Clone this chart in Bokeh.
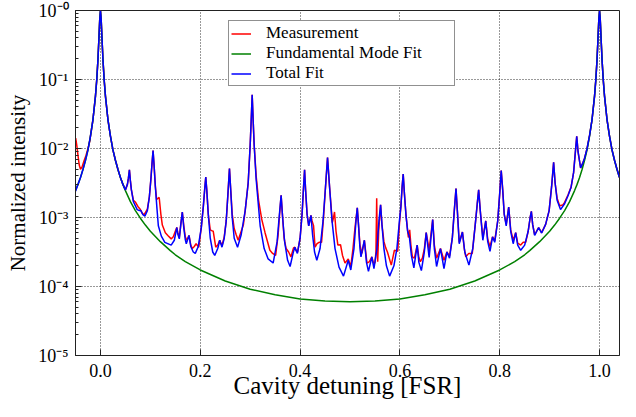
from bokeh.plotting import figure
from bokeh.models import (FixedTicker, PrintfTickFormatter, CustomJSTickFormatter,
                          Legend, LegendItem, Range1d)
from bokeh.embed import file_html
from bokeh.resources import INLINE

# ---------------- data (x in FSR, log10 of normalized intensity) ----------------
x_start, x_end = -0.05, 1.04
y_low, y_high = 1e-5, 1.0
x_ticks = [0.0, 0.2, 0.4, 0.6, 0.8, 1.0]
y_ticks = [1e-5, 1e-4, 1e-3, 1e-2, 1e-1, 1.0]
x_title = "Cavity detuning [FSR]"
y_title = "Normalized intensity"

measurement_pts = [
    (-0.0496, -1.85), (-0.0475, -1.95), (-0.045, -2.10), (-0.0425, -2.24), (-0.040, -2.30),
    (-0.037, -2.27), (-0.033, -2.18), (-0.029, -2.10), (-0.025, -2.00), (-0.021, -1.88),
    (-0.02, -1.82), (-0.015, -1.58), (-0.01, -1.24), (-0.0075, -1.01), (-0.005, -0.71),
    (-0.003, -0.39), (-0.0015, -0.14), (0.0, 0.0), (0.0015, -0.14), (0.003, -0.39),
    (0.005, -0.71), (0.0075, -1.01), (0.01, -1.24), (0.015, -1.58), (0.02, -1.82),
    (0.025, -2.02), (0.03, -2.17), (0.035, -2.30), (0.04, -2.42), (0.045, -2.52),
    (0.050, -2.60), (0.054, -2.52), (0.056, -2.43), (0.058, -2.31), (0.060, -2.47),
    (0.062, -2.60), (0.066, -2.75), (0.0704, -2.78), (0.075, -2.84), (0.080, -2.885),
    (0.084, -2.94), (0.0875, -2.96), (0.094, -2.88), (0.098, -2.70), (0.101, -2.45),
    (0.1035, -2.20), (0.1054, -2.03), (0.1075, -2.25), (0.110, -2.55), (0.1125, -2.74),
    (0.1155, -2.72), (0.1177, -2.71), (0.121, -2.95), (0.124, -3.11), (0.130, -3.22),
    (0.135, -3.26), (0.1417, -3.31), (0.146, -3.28), (0.150, -3.20), (0.153, -3.145),
    (0.155, -3.22), (0.158, -3.29), (0.161, -3.10), (0.164, -2.92), (0.167, -3.12),
    (0.170, -3.28), (0.173, -3.33), (0.1774, -3.26), (0.181, -3.40), (0.184, -3.45),
    (0.188, -3.42), (0.1916, -3.38), (0.197, -3.43), (0.202, -3.15), (0.206, -2.85),
    (0.209, -2.58), (0.211, -2.415), (0.213, -2.60), (0.216, -2.95), (0.220, -3.18),
    (0.2228, -3.19), (0.226, -3.20), (0.231, -3.43), (0.235, -3.40), (0.239, -3.33),
    (0.2435, -3.41), (0.248, -3.28), (0.252, -3.05), (0.2555, -2.65), (0.2585, -2.29),
    (0.261, -2.60), (0.264, -2.95), (0.268, -3.16), (0.272, -3.25), (0.276, -3.33),
    (0.281, -3.22), (0.2863, -3.11), (0.290, -2.90), (0.296, -2.50), (0.300, -1.95),
    (0.302, -1.60), (0.304, -1.22), (0.306, -1.60), (0.308, -1.95), (0.312, -2.40),
    (0.3168, -2.75), (0.3233, -3.03), (0.3298, -3.22), (0.3395, -3.475), (0.345, -3.52),
    (0.351, -3.55), (0.356, -3.25), (0.359, -2.95), (0.362, -2.68), (0.365, -3.00),
    (0.368, -3.30), (0.372, -3.45), (0.377, -3.50), (0.3817, -3.57), (0.3868, -3.44),
    (0.3895, -3.43), (0.392, -3.48), (0.395, -3.50), (0.400, -3.30), (0.404, -2.95),
    (0.407, -2.55), (0.409, -2.31), (0.411, -2.60), (0.414, -2.95), (0.4173, -3.12),
    (0.4218, -2.97), (0.424, -3.05), (0.427, -3.12), (0.430, -3.43), (0.434, -3.38),
    (0.438, -3.36), (0.443, -3.36), (0.447, -3.00), (0.451, -2.55), (0.455, -2.13),
    (0.459, -2.55), (0.4646, -3.075), (0.467, -3.00), (0.469, -2.92), (0.472, -3.20),
    (0.4757, -3.40), (0.481, -3.395), (0.485, -3.55), (0.490, -3.66), (0.4965, -3.60),
    (0.5016, -3.71), (0.506, -3.45), (0.510, -3.15), (0.5146, -2.86), (0.517, -3.10),
    (0.520, -3.40), (0.524, -3.52), (0.5288, -3.33), (0.534, -3.66), (0.539, -3.64),
    (0.5438, -3.57), (0.547, -3.66), (0.550, -3.66), (0.552, -3.50), (0.5535, -2.72),
    (0.5545, -3.30), (0.5555, -3.64), (0.5575, -3.20), (0.5613, -2.815), (0.564, -3.10),
    (0.568, -3.35), (0.5716, -3.44), (0.575, -3.50), (0.5827, -3.69), (0.589, -3.475),
    (0.5957, -3.49), (0.599, -3.10), (0.602, -2.84), (0.6045, -2.55), (0.6066, -2.37),
    (0.609, -2.65), (0.612, -2.95), (0.617, -3.29), (0.6196, -3.18), (0.622, -3.40),
    (0.625, -3.57), (0.629, -3.59), (0.6346, -3.40), (0.638, -3.58), (0.641, -3.64),
    (0.645, -3.59), (0.649, -3.45), (0.6527, -3.22), (0.6586, -3.47), (0.6657, -3.03),
    (0.669, -3.40), (0.6735, -3.59), (0.6813, -3.45), (0.6883, -3.62), (0.6942, -3.50),
    (0.6994, -3.56), (0.705, -3.30), (0.709, -2.90), (0.7124, -2.58), (0.7155, -2.95),
    (0.7189, -3.36), (0.7253, -3.21), (0.729, -3.45), (0.732, -3.57), (0.738, -3.52),
    (0.745, -3.52), (0.751, -3.10), (0.755, -2.80), (0.7578, -2.60), (0.761, -2.90),
    (0.7662, -3.30), (0.772, -3.05), (0.776, -3.32), (0.7805, -3.42), (0.7856, -3.28),
    (0.790, -3.34), (0.796, -3.05), (0.800, -2.65), (0.803, -2.32), (0.806, -2.60),
    (0.809, -2.95), (0.813, -3.10), (0.818, -2.85), (0.822, -3.18), (0.827, -3.33),
    (0.832, -3.22), (0.836, -3.37), (0.842, -3.40), (0.847, -3.36), (0.852, -3.36),
    (0.857, -3.20), (0.861, -3.00), (0.8634, -2.91), (0.866, -3.10), (0.870, -3.25),
    (0.878, -3.145), (0.884, -3.22), (0.892, -3.10), (0.899, -2.90), (0.904, -2.55),
    (0.908, -2.20), (0.911, -2.50), (0.915, -2.72), (0.920, -2.83), (0.926, -2.82),
    (0.930, -2.78), (0.937, -2.67), (0.943, -2.56), (0.948, -2.35), (0.951, -2.10),
    (0.9543, -1.825), (0.957, -2.05), (0.9621, -2.28), (0.966, -2.22), (0.970, -2.14),
    (0.975, -2.00), (0.980, -1.81), (0.985, -1.58), (0.990, -1.24), (0.9925, -1.01),
    (0.995, -0.71), (0.997, -0.39), (0.9985, -0.14), (1.0, 0.0), (1.0015, -0.14),
    (1.003, -0.39), (1.005, -0.71), (1.0075, -1.01), (1.01, -1.24), (1.015, -1.58),
    (1.02, -1.82), (1.025, -2.02), (1.03, -2.17), (1.035, -2.30), (1.04, -2.42),
]

fundamental_pts = [
    (-0.05, -2.61), (-0.045, -2.52), (-0.04, -2.42), (-0.035, -2.305), (-0.03, -2.17),
    (-0.025, -2.02), (-0.02, -1.82), (-0.015, -1.58), (-0.01, -1.24), (-0.0075, -1.01),
    (-0.005, -0.71), (-0.003, -0.39), (-0.0015, -0.14), (0.0, 0.0), (0.0015, -0.14),
    (0.003, -0.39), (0.005, -0.71), (0.0075, -1.01), (0.01, -1.24), (0.015, -1.58),
    (0.02, -1.82), (0.025, -2.02), (0.03, -2.17), (0.035, -2.305), (0.04, -2.42),
    (0.045, -2.52), (0.05, -2.61), (0.06, -2.77), (0.07, -2.90), (0.08, -3.01),
    (0.09, -3.11), (0.10, -3.20), (0.12, -3.35), (0.14, -3.48), (0.15, -3.54),
    (0.17, -3.64), (0.20, -3.76), (0.25, -3.92), (0.30, -4.04), (0.35, -4.12),
    (0.40, -4.18), (0.45, -4.21), (0.50, -4.22), (0.55, -4.21), (0.60, -4.18),
    (0.65, -4.12), (0.70, -4.04), (0.75, -3.92), (0.80, -3.76), (0.83, -3.64),
    (0.85, -3.54), (0.86, -3.48), (0.88, -3.35), (0.90, -3.20), (0.91, -3.11),
    (0.92, -3.01), (0.93, -2.90), (0.94, -2.77), (0.95, -2.61), (0.955, -2.52),
    (0.96, -2.42), (0.965, -2.305), (0.97, -2.17), (0.975, -2.02), (0.98, -1.82),
    (0.985, -1.58), (0.99, -1.24), (0.9925, -1.01), (0.995, -0.71), (0.997, -0.39),
    (0.9985, -0.14), (1.0, 0.0), (1.0015, -0.14), (1.003, -0.39), (1.005, -0.71),
    (1.0075, -1.01), (1.01, -1.24), (1.015, -1.58), (1.02, -1.82), (1.025, -2.02),
    (1.03, -2.17), (1.035, -2.305), (1.04, -2.42),
]

total_fit_pts = [
    (-0.05, -2.62), (-0.045, -2.52), (-0.04, -2.42), (-0.035, -2.30), (-0.03, -2.17),
    (-0.025, -2.02), (-0.02, -1.82), (-0.015, -1.58), (-0.01, -1.24), (-0.0075, -1.01),
    (-0.005, -0.71), (-0.003, -0.39), (-0.0015, -0.14), (0.0, 0.0), (0.0015, -0.14),
    (0.003, -0.39), (0.005, -0.71), (0.0075, -1.01), (0.01, -1.24), (0.015, -1.58),
    (0.02, -1.82), (0.025, -2.02), (0.03, -2.17), (0.035, -2.30), (0.04, -2.42),
    (0.045, -2.52), (0.050, -2.60), (0.054, -2.52), (0.056, -2.43), (0.058, -2.31),
    (0.060, -2.47), (0.062, -2.60), (0.066, -2.77), (0.0736, -2.885), (0.078, -2.90),
    (0.081, -2.90), (0.085, -2.96), (0.089, -2.98), (0.094, -2.90), (0.098, -2.70),
    (0.101, -2.45), (0.1035, -2.20), (0.1054, -2.03), (0.1075, -2.25), (0.110, -2.55),
    (0.113, -2.85), (0.116, -3.12), (0.122, -3.27), (0.129, -3.36), (0.1417, -3.40),
    (0.148, -3.33), (0.151, -3.22), (0.153, -3.145), (0.155, -3.24), (0.158, -3.31),
    (0.161, -3.10), (0.164, -2.92), (0.167, -3.15), (0.170, -3.32), (0.172, -3.38),
    (0.1774, -3.26), (0.181, -3.42), (0.186, -3.50), (0.190, -3.52), (0.196, -3.42),
    (0.202, -3.15), (0.206, -2.85), (0.209, -2.58), (0.211, -2.415), (0.213, -2.60),
    (0.216, -2.95), (0.220, -3.30), (0.225, -3.50), (0.229, -3.55), (0.235, -3.45),
    (0.239, -3.33), (0.2435, -3.43), (0.248, -3.30), (0.252, -3.05), (0.2555, -2.65),
    (0.2585, -2.29), (0.261, -2.60), (0.264, -3.00), (0.268, -3.30), (0.2747, -3.43),
    (0.282, -3.25), (0.290, -2.90), (0.296, -2.50), (0.300, -1.95), (0.302, -1.60),
    (0.304, -1.22), (0.306, -1.60), (0.308, -1.95), (0.312, -2.45), (0.320, -3.12),
    (0.328, -3.45), (0.336, -3.60), (0.346, -3.66), (0.354, -3.35), (0.358, -3.00),
    (0.362, -2.68), (0.365, -3.00), (0.369, -3.35), (0.375, -3.62), (0.380, -3.71),
    (0.3865, -3.50), (0.3895, -3.43), (0.3946, -3.52), (0.400, -3.30), (0.404, -2.95),
    (0.407, -2.55), (0.409, -2.31), (0.411, -2.60), (0.414, -2.95), (0.4173, -3.12),
    (0.4218, -2.97), (0.425, -3.25), (0.429, -3.50), (0.4335, -3.62), (0.440, -3.45),
    (0.446, -3.05), (0.451, -2.55), (0.455, -2.13), (0.459, -2.55), (0.464, -3.05),
    (0.470, -3.45), (0.478, -3.72), (0.487, -3.85), (0.4965, -3.62), (0.5016, -3.76),
    (0.508, -3.45), (0.512, -3.05), (0.5146, -2.86), (0.517, -3.10), (0.520, -3.45),
    (0.522, -3.57), (0.5288, -3.33), (0.533, -3.65), (0.537, -3.78), (0.5438, -3.57),
    (0.548, -3.74), (0.554, -3.45), (0.558, -3.05), (0.5613, -2.815), (0.564, -3.10),
    (0.568, -3.45), (0.573, -3.70), (0.5794, -3.85), (0.588, -3.70), (0.594, -3.45),
    (0.599, -3.05), (0.602, -2.84), (0.6045, -2.55), (0.6066, -2.37), (0.609, -2.65),
    (0.612, -2.95), (0.6155, -3.20), (0.619, -3.28), (0.623, -3.55), (0.628, -3.73),
    (0.6346, -3.40), (0.638, -3.65), (0.643, -3.77), (0.649, -3.50), (0.6527, -3.22),
    (0.6586, -3.58), (0.6657, -3.03), (0.669, -3.45), (0.6735, -3.71), (0.6813, -3.45),
    (0.6883, -3.74), (0.6942, -3.50), (0.6994, -3.59), (0.705, -3.30), (0.709, -2.90),
    (0.7124, -2.58), (0.7155, -2.95), (0.7189, -3.38), (0.7253, -3.21), (0.730, -3.50),
    (0.7383, -3.69), (0.746, -3.45), (0.751, -3.10), (0.755, -2.80), (0.7578, -2.60),
    (0.761, -2.90), (0.7662, -3.33), (0.772, -3.05), (0.776, -3.35), (0.7805, -3.49),
    (0.7856, -3.28), (0.790, -3.36), (0.796, -3.05), (0.800, -2.65), (0.803, -2.32),
    (0.806, -2.60), (0.809, -2.95), (0.813, -3.12), (0.818, -2.85), (0.822, -3.20),
    (0.827, -3.38), (0.832, -3.22), (0.836, -3.40), (0.842, -3.475), (0.850, -3.40),
    (0.857, -3.20), (0.861, -3.00), (0.8634, -2.91), (0.866, -3.10), (0.870, -3.26),
    (0.878, -3.145), (0.884, -3.225), (0.892, -3.10), (0.899, -2.90), (0.904, -2.55),
    (0.908, -2.20), (0.911, -2.50), (0.915, -2.75), (0.9218, -2.885), (0.930, -2.80),
    (0.937, -2.68), (0.943, -2.56), (0.948, -2.35), (0.951, -2.10), (0.9543, -1.825),
    (0.957, -2.05), (0.9621, -2.28), (0.966, -2.22), (0.970, -2.14), (0.975, -2.00),
    (0.980, -1.81), (0.985, -1.58), (0.990, -1.24), (0.9925, -1.01), (0.995, -0.71),
    (0.997, -0.39), (0.9985, -0.14), (1.0, 0.0), (1.0015, -0.14), (1.003, -0.39),
    (1.005, -0.71), (1.0075, -1.01), (1.01, -1.24), (1.015, -1.58), (1.02, -1.82),
    (1.025, -2.02), (1.03, -2.17), (1.035, -2.30), (1.04, -2.42),
]

series_labels = ["Measurement", "Fundamental Mode Fit", "Total Fit"]
series_colors = ["#ff0000", "#008000", "#0000ff"]


def unpack(pts):
    xs = [pt[0] for pt in pts]
    ys = [10.0 ** pt[1] for pt in pts]
    return xs, ys


FONT = "Liberation Serif"

p = figure(width=620, height=401, x_range=Range1d(x_start, x_end), y_range=Range1d(y_low, y_high),
           y_axis_type="log", output_backend="svg", toolbar_location=None,
           min_border_left=75, min_border_right=1, min_border_top=10, min_border_bottom=46)
p.background_fill_color = "white"
p.border_fill_color = "white"
p.outline_line_color = "#222222"
p.outline_line_width = 1
p.outline_line_alpha = 1.0

renderers = []
for pts, col in zip([measurement_pts, fundamental_pts, total_fit_pts], series_colors):
    xs, ys = unpack(pts)
    r = p.line(xs, ys, line_color=col, line_width=1.5)
    renderers.append(r)

# axes
p.xaxis.ticker = FixedTicker(ticks=x_ticks)
p.xaxis.formatter = PrintfTickFormatter(format="%.1f")
p.xaxis.axis_label = x_title
y_minor = [m * t for t in y_ticks[:-1] for m in range(2, 10)]
p.yaxis.ticker = FixedTicker(ticks=y_ticks, minor_ticks=y_minor)
p.yaxis.formatter = CustomJSTickFormatter(code=r"""
const e = Math.round(Math.log10(tick));
const sup = ["\u2070", "\u00B9", "\u00B2", "\u00B3", "\u2074", "\u2075"];
return "10\u207B" + sup[-e];
""")
p.yaxis.axis_label = y_title

for ax in (p.xaxis, p.yaxis):
    ax.axis_line_color = "#222222"
    ax.major_tick_in = 6
    ax.major_tick_out = 0
    ax.minor_tick_in = 3
    ax.minor_tick_out = 0
    ax.major_tick_line_color = "#222222"
    ax.minor_tick_line_color = "#222222"
    ax.major_label_text_font = FONT
    ax.major_label_text_font_size = "18px"
    ax.major_label_text_color = "black"
    ax.axis_label_text_font = FONT
    ax.axis_label_text_font_style = "normal"
    ax.axis_label_text_color = "black"
p.xaxis.minor_tick_line_color = None
p.xaxis.major_label_standoff = 8
p.xaxis.axis_label_standoff = -8
p.xaxis.axis_label_text_font_size = "25px"
p.yaxis.major_label_standoff = 7
p.yaxis.axis_label_standoff = 5
p.yaxis.axis_label_text_font_size = "21px"

for g in (p.xgrid, p.ygrid):
    g.grid_line_color = "black"
    g.grid_line_dash = "1 2"
    g.grid_line_width = 1
    g.grid_line_alpha = 0.8

legend = Legend(items=[LegendItem(label=lab, renderers=[r]) for lab, r in zip(series_labels, renderers)],
                location=(153, 269))
legend.label_text_font = FONT
legend.label_text_font_size = "17px"
legend.label_text_color = "black"
legend.border_line_color = "#222222"
legend.border_line_width = 1
legend.background_fill_alpha = 1.0
legend.glyph_width = 20
legend.glyph_height = 15
legend.label_height = 15
legend.label_width = 186
legend.label_standoff = 15
legend.spacing = 0
legend.padding = 2
legend.margin = 0
p.add_layout(legend)

open("out.html", "w", encoding="utf-8").write(file_html(p, INLINE))
